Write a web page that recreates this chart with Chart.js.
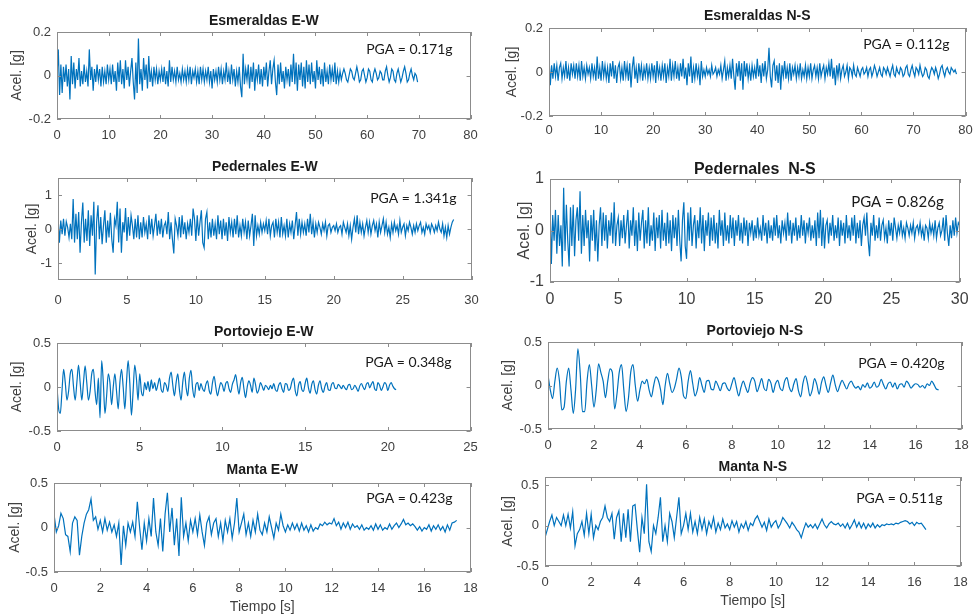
<!DOCTYPE html>
<html>
<head>
<meta charset="utf-8">
<script src="https://cdn.jsdelivr.net/npm/chart.js@4.4.1/dist/chart.umd.min.js"></script>
<style>
  html, body { margin: 0; padding: 0; background: #fff; overflow: hidden; }
  #wrap { position: relative; width: 979px; height: 615px; }
  #wrap canvas { position: absolute; }
</style>
</head>
<body>
<div id="wrap"></div>
<script>
// sampling steps [s]
var dtEsmEW = 0.25, dtEsmNS = 0.25, dtPed = 0.1, dtPort = 0.1, dtManta = 0.1;

var titles = ["Esmeraldas E-W", "Esmeraldas N-S", "Pedernales E-W", "Pedernales  N-S",
              "Portoviejo E-W", "Portoviejo N-S", "Manta E-W", "Manta N-S"];
var pgaLabels = ["PGA = 0.171g", "PGA = 0.112g", "PGA = 1.341g", "PGA = 0.826g",
                 "PGA = 0.348g", "PGA = 0.420g", "PGA = 0.423g", "PGA = 0.511g"];

var xTicks80 = [0, 10, 20, 30, 40, 50, 60, 70, 80];
var xTicks30 = [0, 5, 10, 15, 20, 25, 30];
var xTicks25 = [0, 5, 10, 15, 20, 25];
var xTicks18 = [0, 2, 4, 6, 8, 10, 12, 14, 16, 18];
var yTicks02 = [-0.2, 0, 0.2];
var yTicks1 = [-1, 0, 1];
var yTicks05 = [-0.5, 0, 0.5];

// acceleration [g]
var esmeraldasEW = [
  0.00, 0.12, -0.09, 0.05, -0.08, 0.04, -0.03, 0.05, -0.05, 0.03, -0.11, 0.09, -0.04, 0.06, -0.06, 0.03, -0.02, 0.08, -0.05, 0.02,
  -0.04, 0.05, -0.03, 0.02, -0.05, 0.12, -0.02, 0.04, -0.07, 0.03, -0.03, 0.05, -0.02, 0.03, -0.05, 0.04, -0.03, 0.02, -0.04, 0.05,
  -0.02, 0.03, -0.04, 0.05, -0.03, 0.02, -0.07, 0.06, -0.03, 0.07, -0.04, 0.03, -0.06, 0.07, -0.02, 0.04, -0.05, 0.02, 0.08, -0.03,
  -0.11, 0.06, -0.08, 0.17, -0.04, 0.03, -0.07, 0.08, -0.02, 0.05, -0.06, 0.09, -0.03, 0.02, -0.05, 0.04, -0.02, 0.03, -0.04, 0.02,
  -0.02, 0.03, -0.03, 0.04, -0.04, 0.02, -0.05, 0.07, -0.03, 0.04, -0.02, 0.02, -0.03, 0.04, -0.02, 0.01, -0.03, 0.03, -0.02, 0.02,
  -0.03, 0.03, -0.02, 0.04, -0.04, 0.02, -0.01, 0.03, -0.03, 0.02, -0.04, 0.04, -0.02, 0.03, -0.03, 0.02, -0.02, 0.04, -0.03, 0.02,
  -0.06, 0.03, -0.02, 0.02, -0.03, 0.04, -0.02, 0.03, -0.04, 0.02, -0.02, 0.06, -0.03, 0.02, -0.04, 0.05, -0.02, 0.03, -0.05, 0.02,
  -0.03, 0.04, -0.05, -0.10, 0.10, -0.04, 0.03, -0.02, 0.05, -0.06, 0.04, -0.03, 0.06, -0.07, 0.03, -0.02, 0.05, -0.04, 0.03, -0.05,
  0.04, -0.02, 0.06, -0.05, 0.02, 0.07, -0.04, 0.03, 0.07, -0.03, -0.09, 0.05, -0.04, 0.06, -0.03, 0.02, -0.06, 0.04, -0.02, 0.03,
  -0.05, 0.05, -0.03, 0.10, -0.04, 0.06, -0.07, 0.05, -0.02, 0.06, -0.05, 0.04, -0.06, 0.07, -0.03, 0.05, -0.04, 0.06, -0.03, 0.02,
  -0.06, 0.07, -0.02, 0.04, -0.04, 0.03, -0.05, 0.06, -0.03, 0.02, -0.04, 0.05, -0.02, 0.03, -0.03, 0.06, -0.04, 0.02, -0.03, 0.02,
  -0.02, 0.01, 0.03, 0.01, -0.02, -0.03, 0.00, 0.03, 0.02, -0.01, -0.02, 0.01, 0.04, 0.01, -0.03, -0.02, 0.02, 0.03, 0.00, -0.03,
  -0.01, 0.03, 0.02, -0.02, -0.03, 0.01, 0.03, 0.01, -0.02, -0.01, 0.02, 0.01, -0.02, -0.02, 0.02, 0.04, 0.00, -0.03, -0.01, 0.03,
  0.02, -0.02, -0.03, 0.01, 0.03, 0.00, -0.03, -0.01, 0.02, 0.04, 0.01, -0.03, -0.02, 0.01, 0.03, 0.00, -0.02, 0.01, 0.00, -0.03
];
var esmeraldasNS = [
  0.07, -0.06, 0.03, -0.03, 0.04, -0.02, 0.03, -0.04, 0.02, 0.04, -0.03, 0.02, -0.02, 0.05, -0.03, 0.02, -0.04, 0.04, -0.01, 0.03,
  -0.03, 0.04, -0.02, 0.03, -0.04, 0.05, -0.02, 0.02, -0.03, 0.03, -0.01, 0.02, -0.03, 0.04, -0.02, 0.02, -0.04, 0.07, -0.03, 0.02,
  -0.04, 0.05, -0.02, 0.03, -0.03, 0.02, -0.05, 0.04, -0.02, 0.05, -0.03, 0.03, -0.05, 0.02, 0.04, -0.03, 0.02, -0.04, 0.05, -0.02,
  0.03, -0.04, 0.04, -0.07, 0.02, 0.07, -0.03, 0.02, -0.05, 0.04, -0.02, 0.03, -0.04, 0.02, -0.02, 0.04, -0.03, 0.02, -0.03, 0.04,
  -0.02, 0.03, -0.05, 0.05, -0.02, 0.02, -0.04, 0.03, -0.02, 0.04, -0.05, 0.02, -0.02, 0.06, -0.04, 0.03, -0.02, 0.05, -0.03, 0.02,
  -0.04, 0.04, -0.02, 0.06, -0.03, 0.02, -0.06, 0.04, -0.02, 0.07, -0.05, 0.02, -0.03, 0.04, -0.02, 0.02, -0.06, 0.05, -0.02, 0.01,
  -0.02, 0.02, -0.01, 0.01, -0.02, 0.03, -0.01, 0.00, 0.02, -0.02, 0.01, -0.01, 0.03, -0.03, 0.01, 0.05, -0.04, 0.02, -0.02, 0.03,
  -0.03, 0.06, -0.02, -0.08, 0.04, -0.02, 0.05, -0.04, 0.04, -0.08, 0.05, -0.02, 0.04, -0.03, 0.02, -0.04, 0.03, -0.02, 0.02, -0.03,
  0.06, -0.02, 0.03, -0.05, 0.04, -0.02, 0.05, -0.03, 0.01, 0.11, -0.02, -0.07, 0.03, 0.05, -0.04, 0.03, -0.05, 0.04, -0.08, 0.03,
  -0.02, 0.05, -0.03, 0.02, -0.03, 0.04, -0.04, 0.02, -0.01, 0.03, -0.03, 0.02, -0.02, 0.04, -0.03, 0.01, -0.02, 0.03, -0.03, 0.02,
  -0.02, 0.04, -0.03, 0.01, 0.03, -0.02, 0.02, -0.03, 0.04, -0.02, 0.01, 0.03, -0.03, 0.02, -0.01, 0.04, -0.02, 0.06, -0.03, 0.02,
  -0.06, 0.03, -0.02, 0.04, -0.03, 0.01, 0.03, -0.02, 0.00, 0.03, -0.03, 0.02, 0.01, -0.02, 0.03, -0.01, -0.02, 0.02, 0.00, -0.02,
  0.01, 0.02, -0.01, 0.00, 0.02, -0.02, 0.01, 0.02, -0.02, 0.00, 0.03, 0.01, -0.02, 0.00, 0.02, -0.01, -0.02, 0.02, 0.01, -0.01,
  0.02, 0.00, -0.02, 0.01, 0.03, -0.01, -0.02, 0.02, 0.00, -0.01, 0.02, 0.01, -0.02, -0.01, 0.02, 0.03, -0.01, -0.02, 0.01, 0.03,
  0.00, -0.02, 0.02, 0.01, -0.01, 0.03, 0.00, -0.02, -0.01, 0.02, 0.01, -0.02, -0.03, 0.00, 0.02, 0.01, -0.01, 0.02, 0.00, -0.03,
  -0.01, 0.02, 0.03, 0.00, -0.02, 0.01, 0.02, 0.00, -0.01, 0.02, 0.01, 0.00, 0.01, -0.01
];
var pedernalesEW = [
  0.38, -0.40, 0.25, -0.15, 0.30, -0.20, 0.22, 0.05, -0.25, 0.15, -0.30, 0.88, -0.40, 0.45, -0.30, 0.50, -0.70, 0.20, 0.78, -0.40,
  0.30, -0.35, 0.55, -0.50, 0.40, -0.20, 0.80, -1.34, 0.20, 0.70, -0.30, 0.35, -0.45, 0.10, 0.55, -0.40, 0.25, -0.25, 0.48, -0.30,
  -0.70, 0.30, 0.10, 0.80, -0.40, 0.60, -0.70, 0.20, -0.10, 0.62, -0.35, 0.35, -0.20, 0.40, 0.10, -0.30, 0.30, -0.25, 0.40, -0.30,
  0.20, -0.25, 0.35, -0.10, 0.15, -0.30, 0.40, -0.15, 0.30, -0.20, 0.10, 0.45, -0.20, 0.25, -0.15, 0.30, -0.25, 0.10, 0.20, -0.15,
  0.50, -0.30, 0.20, -0.30, -0.72, 0.30, 0.10, -0.20, 0.35, -0.25, 0.40, -0.15, 0.20, -0.30, 0.15, -0.10, 0.30, -0.20, 0.60, 0.30,
  -0.35, 0.40, -0.20, 0.20, 0.55, -0.40, -0.55, 0.30, 0.50, -0.30, 0.20, -0.25, 0.30, -0.20, 0.15, -0.30, 0.40, -0.15, 0.25, -0.30,
  0.30, -0.20, 0.20, -0.35, 0.35, -0.10, 0.20, -0.25, 0.30, -0.15, 0.40, -0.25, 0.10, -0.20, 0.30, -0.10, 0.20, -0.30, 0.25, -0.20,
  0.10, 0.45, -0.50, 0.40, -0.20, 0.10, -0.15, 0.20, -0.10, 0.15, -0.05, 0.25, -0.15, 0.30, -0.20, 0.10, 0.20, -0.25, 0.30, -0.10,
  0.20, -0.25, 0.35, -0.15, 0.10, -0.20, 0.30, -0.25, 0.15, -0.10, 0.25, -0.30, 0.10, 0.50, -0.20, 0.30, -0.15, 0.20, -0.10, 0.15,
  -0.20, 0.30, -0.10, 0.45, -0.15, 0.20, -0.25, 0.15, -0.10, 0.20, 0.05, -0.15, 0.15, -0.05, 0.20, -0.20, 0.10, 0.15, -0.10, 0.05,
  0.10, -0.05, 0.15, -0.10, 0.05, 0.10, -0.15, 0.20, 0.05, -0.10, 0.15, -0.20, 0.10, -0.30, 0.05, 0.30, -0.10, 0.40, -0.15, 0.20,
  -0.10, 0.15, -0.20, 0.05, 0.25, -0.10, 0.20, -0.15, 0.10, 0.25, -0.05, 0.15, -0.25, 0.20, -0.10, 0.10, 0.30, -0.10, 0.20, -0.15,
  0.05, -0.25, 0.15, -0.10, 0.20, -0.05, 0.10, -0.15, 0.25, -0.10, 0.05, 0.15, -0.20, 0.10, -0.05, 0.20, 0.05, -0.15, 0.10, -0.10,
  0.15, -0.05, 0.10, 0.20, -0.10, 0.05, -0.15, 0.15, 0.00, 0.10, -0.10, 0.15, 0.05, -0.10, 0.10, -0.05, 0.20, 0.00, -0.10, 0.15,
  -0.20, 0.05, -0.25, 0.10, -0.15, 0.05, 0.20, 0.28
];
var pedernalesNS = [
  0.55, -0.65, 0.30, -0.20, 0.40, -0.45, 0.30, -0.30, 0.10, -0.70, 0.83, -0.40, 0.50, -0.20, -0.70, 0.45, -0.30, 0.50, -0.50, 0.20,
  0.45, -0.20, 0.76, -0.45, 0.30, -0.30, 0.40, -0.15, 0.20, -0.60, 0.30, -0.20, 0.40, -0.40, 0.20, -0.60, 0.10, 0.45, -0.30, 0.35,
  -0.20, 0.30, -0.35, 0.20, -0.10, 0.35, -0.25, 0.55, -0.30, 0.10, 0.25, -0.30, 0.20, -0.15, 0.30, -0.25, 0.10, 0.40, -0.35, 0.20,
  -0.10, 0.45, -0.30, 0.20, -0.40, 0.35, -0.20, 0.15, 0.40, -0.35, 0.20, -0.25, 0.45, -0.30, 0.10, -0.20, 0.35, -0.40, 0.25, -0.15,
  0.30, -0.35, 0.40, -0.20, 0.15, -0.30, 0.35, -0.25, 0.20, -0.40, 0.30, -0.15, 0.25, -0.30, 0.40, -0.20, -0.60, 0.20, 0.55, -0.30,
  -0.55, 0.35, -0.20, 0.45, -0.30, 0.10, 0.30, -0.35, 0.20, -0.15, 0.45, -0.25, 0.30, -0.40, 0.20, -0.10, 0.35, -0.30, 0.25, -0.20,
  0.30, -0.25, 0.15, -0.35, 0.40, -0.10, 0.20, -0.30, 0.35, -0.20, 0.10, -0.25, 0.30, -0.15, 0.25, -0.30, 0.20, -0.10, 0.30, -0.20,
  0.15, -0.25, 0.25, -0.10, 0.20, -0.30, 0.15, -0.05, 0.20, -0.20, 0.10, -0.15, 0.25, -0.10, 0.05, -0.20, 0.30, -0.10, 0.15, -0.25,
  0.20, -0.15, 0.10, -0.20, 0.25, -0.10, 0.30, -0.15, 0.10, -0.25, 0.20, -0.05, 0.15, -0.20, 0.35, -0.10, 0.20, -0.25, 0.15, -0.10,
  0.25, -0.20, 0.10, -0.15, 0.30, -0.10, 0.20, -0.25, 0.15, -0.05, 0.25, -0.20, 0.10, -0.15, 0.20, -0.30, 0.35, -0.15, 0.40, -0.30,
  0.25, -0.35, 0.10, 0.20, -0.25, 0.15, -0.10, 0.30, -0.20, 0.10, -0.15, 0.25, -0.30, 0.20, -0.10, 0.15, -0.25, 0.30, -0.15, 0.10,
  -0.20, 0.25, -0.10, 0.30, -0.25, 0.15, -0.15, 0.20, -0.30, 0.10, 0.25, -0.10, 0.35, -0.20, -0.50, 0.15, -0.10, 0.30, -0.20, 0.10,
  -0.15, 0.25, -0.20, 0.10, 0.20, -0.15, 0.05, -0.25, 0.20, -0.10, 0.15, -0.20, 0.25, 0.05, -0.15, 0.10, -0.05, 0.20, -0.10, 0.05,
  -0.15, 0.15, 0.05, -0.10, 0.10, -0.05, 0.15, -0.15, 0.05, 0.10, -0.05, 0.15, -0.10, 0.05, -0.20, 0.10, 0.05, -0.15, 0.15, -0.05,
  0.10, -0.10, 0.20, -0.15, 0.05, 0.15, -0.10, 0.00, 0.25, -0.20, 0.30, -0.05, -0.30, 0.10, -0.15, 0.20, -0.10, 0.25, -0.05, 0.15,
  0.10
];
var portoviejoEW = [
  0.00, -0.25, -0.30, -0.05, 0.20, 0.05, -0.15, -0.05, 0.15, 0.20, 0.00, -0.15, 0.05, 0.25, 0.05, -0.15, 0.05, 0.24, 0.05, -0.15,
  -0.05, 0.15, 0.20, -0.05, -0.20, 0.10, -0.35, 0.30, 0.05, -0.30, -0.10, 0.15, 0.05, -0.20, 0.00, 0.15, -0.05, -0.25, 0.05, 0.20,
  0.00, -0.25, 0.05, 0.30, 0.05, -0.32, -0.05, 0.25, 0.10, -0.15, 0.15, -0.05, -0.10, 0.05, -0.03, 0.06, -0.05, 0.08, -0.02, 0.05,
  -0.04, 0.03, 0.10, -0.03, -0.06, 0.05, 0.02, -0.05, 0.10, 0.17, 0.02, -0.10, 0.05, 0.15, -0.03, -0.15, 0.05, 0.17, 0.00, -0.10,
  0.10, 0.19, -0.02, -0.12, 0.03, 0.05, -0.04, 0.04, -0.02, -0.05, 0.03, 0.07, -0.04, -0.08, 0.05, 0.12, 0.00, -0.10, -0.02, 0.05,
  0.02, -0.05, 0.04, 0.06, -0.02, -0.06, 0.03, 0.08, 0.14, 0.02, -0.08, 0.05, 0.11, -0.02, -0.12, 0.00, 0.07, 0.02, -0.06, 0.10,
  0.03, -0.07, -0.03, 0.05, 0.01, -0.04, 0.02, 0.00, -0.03, 0.02, -0.02, 0.04, -0.03, -0.05, 0.02, 0.05, -0.02, -0.06, 0.04, 0.03,
  -0.04, -0.02, 0.06, 0.10, -0.04, -0.10, 0.02, 0.06, -0.03, -0.05, 0.04, 0.10, -0.01, -0.07, 0.03, 0.07, -0.03, -0.08, 0.02, 0.07,
  -0.02, -0.06, 0.01, 0.05, -0.03, -0.04, 0.03, 0.05, -0.01, -0.02, 0.03, 0.01, -0.02, 0.02, -0.01, -0.03, 0.02, 0.03, -0.03, -0.02,
  0.02, -0.01, -0.05, 0.01, 0.04, 0.00, -0.03, 0.03, 0.05, -0.01, 0.03, 0.06, -0.02, -0.04, 0.05, 0.02, -0.04, 0.00, 0.05, 0.03,
  -0.04, 0.02, 0.05, 0.01, -0.02, -0.03
];
var portoviejoNS = [
  0.12, -0.05, -0.15, 0.05, 0.20, 0.05, -0.28, -0.25, 0.05, 0.20, -0.05, -0.32, -0.05, 0.42, 0.15, -0.30, -0.30, 0.05, 0.24, 0.00,
  -0.25, -0.05, 0.25, 0.15, 0.05, -0.14, 0.05, 0.19, 0.15, -0.27, -0.10, 0.15, 0.24, -0.05, -0.30, -0.15, 0.15, 0.24, 0.00, -0.18,
  -0.05, 0.05, 0.02, 0.07, -0.05, -0.13, 0.00, 0.10, 0.06, -0.05, -0.22, 0.00, 0.14, 0.02, -0.08, -0.03, 0.08, 0.20, 0.10, -0.12,
  -0.15, 0.05, 0.17, 0.02, -0.12, -0.05, 0.09, 0.00, -0.08, 0.05, 0.06, -0.04, -0.05, 0.05, 0.00, -0.06, 0.02, 0.03, -0.03, -0.06,
  0.02, 0.09, -0.02, -0.12, -0.02, 0.05, -0.02, -0.08, 0.03, 0.09, 0.05, -0.07, 0.00, 0.08, -0.03, -0.06, 0.07, 0.03, -0.08, 0.02,
  0.06, -0.03, -0.06, 0.05, 0.09, -0.02, -0.07, 0.02, 0.08, -0.06, -0.13, 0.03, 0.11, 0.02, -0.12, -0.05, 0.08, 0.01, -0.10, 0.03,
  0.10, 0.00, -0.08, 0.03, 0.12, 0.01, -0.07, 0.00, 0.06, 0.01, -0.04, 0.02, 0.05, 0.00, -0.03, -0.01, -0.05, 0.01, -0.02, 0.03,
  -0.03, -0.01, 0.04, -0.02, 0.00, 0.07, 0.01, -0.04, 0.02, 0.04, -0.02, 0.03, -0.04, 0.01, 0.02, -0.02, 0.05, 0.02, -0.03, 0.00,
  0.02, 0.01, -0.02, 0.00, -0.03, 0.02, 0.00, 0.05, 0.01, -0.04, -0.05
];
var mantaEW = [
  0.15, -0.05, 0.02, 0.16, 0.10, -0.08, -0.10, -0.27, 0.05, 0.12, 0.08, -0.31, -0.10, 0.05, 0.15, 0.20, 0.32, 0.08, 0.12, -0.02,
  0.08, -0.05, 0.10, -0.03, 0.06, -0.05, 0.03, -0.10, 0.05, -0.42, 0.02, -0.20, 0.05, -0.05, 0.06, -0.10, 0.29, 0.00, -0.25, 0.05,
  -0.15, 0.10, -0.10, 0.33, -0.05, -0.20, 0.10, -0.27, 0.15, 0.39, -0.05, 0.22, -0.20, 0.10, -0.32, 0.34, -0.10, 0.05, -0.15, 0.08,
  -0.05, 0.10, -0.08, 0.14, -0.05, -0.20, 0.05, 0.12, -0.08, 0.05, 0.10, -0.10, 0.05, -0.15, 0.08, -0.05, 0.10, -0.12, 0.05, 0.33,
  -0.05, 0.05, 0.15, -0.08, 0.05, -0.10, 0.08, -0.05, 0.15, -0.03, -0.08, 0.05, -0.05, 0.12, 0.00, -0.12, 0.05, -0.03, 0.15, 0.02,
  -0.05, 0.03, -0.03, 0.05, -0.02, 0.04, -0.04, 0.05, -0.03, 0.02, -0.05, 0.03, -0.04, 0.00, -0.02, 0.04, 0.02, 0.06, 0.03, 0.05,
  0.04, 0.10, 0.02, 0.06, -0.02, 0.05, 0.00, 0.06, -0.02, 0.04, 0.00, 0.02, -0.02, 0.03, -0.03, 0.00, -0.02, 0.02, -0.03, 0.04,
  -0.02, 0.03, -0.03, 0.00, -0.02, 0.04, -0.02, 0.02, 0.05, 0.00, 0.04, 0.09, 0.03, 0.05, 0.02, 0.04, 0.01, -0.03, 0.01, -0.04,
  0.00, -0.02, 0.03, -0.04, 0.02, -0.02, 0.03, -0.03, 0.01, -0.05, 0.03, -0.03, 0.05, 0.06, 0.08
];
var mantaNS = [
  -0.15, -0.05, 0.05, 0.13, 0.00, 0.10, 0.05, 0.00, 0.13, 0.00, 0.14, -0.03, 0.17, -0.25, -0.10, -0.05, 0.05, -0.12, 0.15, -0.10,
  0.14, -0.15, 0.00, -0.05, 0.05, 0.10, 0.24, 0.10, 0.05, 0.15, -0.17, 0.10, 0.18, -0.20, 0.15, -0.15, 0.20, -0.20, 0.24, 0.26,
  -0.05, -0.33, 0.10, -0.10, 0.51, -0.20, -0.32, 0.00, -0.10, 0.10, 0.35, -0.20, 0.00, -0.20, 0.15, 0.05, -0.15, 0.10, 0.35, -0.10,
  0.00, 0.15, -0.05, 0.15, -0.08, 0.05, -0.10, 0.10, -0.05, 0.08, -0.10, 0.05, -0.03, 0.10, -0.08, 0.03, -0.05, 0.08, -0.03, 0.02,
  -0.05, 0.06, -0.02, 0.05, -0.08, 0.02, -0.03, 0.05, -0.06, 0.03, 0.00, 0.08, 0.12, 0.05, -0.02, 0.04, -0.06, 0.08, -0.02, 0.03,
  0.06, -0.03, 0.02, 0.10, 0.06, 0.02, -0.03, 0.04, 0.00, -0.05, -0.08, -0.15, -0.05, 0.03, -0.02, 0.01, -0.03, 0.02, -0.04, 0.02,
  0.08, 0.01, -0.03, 0.02, 0.05, 0.02, 0.01, 0.03, -0.01, 0.02, -0.03, 0.03, -0.04, 0.01, 0.07, -0.02, 0.04, -0.03, 0.03, -0.04,
  0.02, -0.02, 0.03, -0.03, 0.01, -0.02, 0.01, 0.00, 0.02, 0.01, 0.02, 0.01, 0.03, 0.02, 0.04, 0.05, 0.06, 0.05, 0.02, 0.04,
  0.00, 0.04, 0.02, 0.03, -0.01, -0.05
];

var FONT = "'Liberation Sans', Arial, sans-serif";
var LINE = "#0072BD";
var GREY = "#404040";

// layout of each subplot: plot box L,T,R,B in page pixels, plus text positions
var panels = [
  { values: esmeraldasEW, dt: dtEsmEW, xMax: 80, yMin: -0.2, yMax: 0.2, xTicks: xTicks80, yTicks: yTicks02,
    col: 0, L: 57, T: 32, R: 474, B: 119, titleY: 21, yTitleX: 17, tickY: 135, pgaDx: 18, pgaDy: 17 },
  { values: esmeraldasNS, dt: dtEsmNS, xMax: 80, yMin: -0.2, yMax: 0.2, xTicks: xTicks80, yTicks: yTicks02,
    col: 490, L: 549, T: 28, R: 969, B: 116, titleY: 16, yTitleX: 512, tickY: 130, pgaDx: 16, pgaDy: 16 },
  { values: pedernalesEW, dt: dtPed, xMax: 30, yMin: -1.5, yMax: 1.5, xTicks: xTicks30, yTicks: yTicks1,
    col: 0, L: 58, T: 178, R: 479, B: 280, titleY: 167, yTitleX: 32, tickY: 300, pgaDx: 15, pgaDy: 20 },
  { values: pedernalesNS, dt: dtPed, xMax: 30, yMin: -1, yMax: 1, xTicks: xTicks30, yTicks: yTicks1,
    col: 490, L: 550, T: 179, R: 965, B: 282, titleY: 170, yTitleX: 525, tickY: 300, pgaDx: 16, pgaDy: 23, big: true },
  { values: portoviejoEW, dt: dtPort, xMax: 25, yMin: -0.5, yMax: 0.5, xTicks: xTicks25, yTicks: yTicks05,
    col: 0, L: 57, T: 343, R: 474, B: 431, titleY: 332, yTitleX: 17, tickY: 447, pgaDx: 19, pgaDy: 19, smooth: true },
  { values: portoviejoNS, dt: dtPort, xMax: 18, yMin: -0.5, yMax: 0.5, xTicks: xTicks18, yTicks: yTicks05,
    col: 490, L: 548, T: 342, R: 965, B: 429, titleY: 331, yTitleX: 508, tickY: 445, pgaDx: 17, pgaDy: 21, smooth: true },
  { values: mantaEW, dt: dtManta, xMax: 18, yMin: -0.5, yMax: 0.5, xTicks: xTicks18, yTicks: yTicks05,
    col: 0, L: 54, T: 483, R: 474, B: 572, titleY: 470, yTitleX: 15, tickY: 588, xTitleY: 607, pgaDx: 18, pgaDy: 15 },
  { values: mantaNS, dt: dtManta, xMax: 18, yMin: -0.5, yMax: 0.6, xTicks: xTicks18, yTicks: yTicks05,
    col: 490, L: 545, T: 477, R: 964, B: 566, titleY: 467, yTitleX: 508, tickY: 582, xTitleY: 601, pgaDx: 18, pgaDy: 21 }
];

// box + inward tick marks + PGA note, MATLAB style
var framePlugin = {
  id: "frame",
  afterDatasetsDraw: function (chart, args, opts) {
    var ctx = chart.ctx, a = chart.chartArea, xs = chart.scales.x, ys = chart.scales.y;
    ctx.save();
    ctx.strokeStyle = "#8c8c8c";
    ctx.lineWidth = 1;
    ctx.strokeRect(Math.round(a.left) + 0.5, Math.round(a.top) + 0.5, Math.round(a.width) - 1, Math.round(a.height) - 1);
    ctx.beginPath();
    xs.ticks.forEach(function (t) {
      var px = Math.round(xs.getPixelForValue(t.value)) + 0.5;
      ctx.moveTo(px, a.bottom); ctx.lineTo(px, a.bottom - 4);
      ctx.moveTo(px, a.top); ctx.lineTo(px, a.top + 4);
    });
    ys.ticks.forEach(function (t) {
      var py = Math.round(ys.getPixelForValue(t.value)) + 0.5;
      ctx.moveTo(a.left, py); ctx.lineTo(a.left + 4, py);
      ctx.moveTo(a.right, py); ctx.lineTo(a.right - 4, py);
    });
    ctx.stroke();
    ctx.fillStyle = "#1a1a1a";
    ctx.font = opts.size + "px Lato, 'Open Sans', sans-serif";
    ctx.textAlign = "right";
    ctx.textBaseline = "middle";
    ctx.fillText(opts.text, a.right - opts.dx, a.top + opts.dy);
    ctx.restore();
  }
};

var wrap = document.getElementById("wrap");

panels.forEach(function (p, k) {
  var tickSize = p.big ? 16 : 13;
  var titleSize = p.big ? 16 : 14;
  var axisTitleSize = p.big ? 16 : 14;
  var canvasTop = p.T - 30;
  var canvasRight = Math.min(p.R + 12, 979);
  var bottomH = (p.xTitleY ? p.xTitleY : p.tickY) + 10 - p.B;

  var cv = document.createElement("canvas");
  cv.width = canvasRight - p.col;
  cv.height = p.B + bottomH - canvasTop;
  cv.style.left = p.col + "px";
  cv.style.top = canvasTop + "px";
  wrap.appendChild(cv);

  var pts = p.values.map(function (v, i) { return { x: +(i * p.dt).toFixed(2), y: v }; });

  new Chart(cv, {
    type: "line",
    data: {
      datasets: [{
        data: pts,
        borderColor: LINE,
        borderWidth: 1.2,
        pointRadius: 0,
        fill: false,
        cubicInterpolationMode: p.smooth ? "monotone" : "default",
        tension: 0
      }]
    },
    options: {
      responsive: false,
      animation: false,
      events: [],
      layout: { padding: { left: 0, right: canvasRight - p.R, top: 0, bottom: 0 } },
      plugins: {
        legend: { display: false },
        tooltip: { enabled: false },
        title: {
          display: true,
          text: titles[k],
          fullSize: false,
          color: "#1a1a1a",
          font: { family: FONT, size: titleSize, weight: "bold", lineHeight: 1 },
          padding: { top: p.titleY - canvasTop - titleSize / 2, bottom: p.T - p.titleY - titleSize / 2 }
        },
        frame: { text: pgaLabels[k], dx: p.pgaDx, dy: p.pgaDy, size: p.big ? 15 : 14 }
      },
      scales: {
        x: {
          type: "linear",
          min: 0,
          max: p.xMax,
          afterFit: function (s) { s.height = bottomH; },
          afterBuildTicks: function (s) { s.ticks = p.xTicks.map(function (v) { return { value: v }; }); },
          grid: { display: false, drawTicks: false },
          border: { display: false },
          ticks: {
            autoSkip: false, maxRotation: 0, color: GREY,
            padding: p.tickY - p.B - tickSize * 0.6,
            font: { family: FONT, size: tickSize },
            callback: function (v) { return String(v); }
          },
          title: {
            display: !!p.xTitleY,
            text: "Tiempo [s]",
            color: GREY,
            font: { family: FONT, size: 14 },
            padding: { top: 0, bottom: 10 - 8.4 }
          }
        },
        y: {
          min: p.yMin,
          max: p.yMax,
          afterFit: function (s) { s.width = p.L - p.col; },
          afterBuildTicks: function (s) { s.ticks = p.yTicks.map(function (v) { return { value: v }; }); },
          grid: { display: false, drawTicks: false },
          border: { display: false },
          ticks: {
            color: GREY, padding: 6,
            font: { family: FONT, size: tickSize },
            callback: function (v) { return String(v); }
          },
          title: {
            display: true,
            text: "Acel. [g]",
            color: GREY,
            font: { family: FONT, size: axisTitleSize },
            padding: { top: p.yTitleX - p.col - axisTitleSize * 0.6, bottom: 0 }
          }
        }
      }
    },
    plugins: [framePlugin]
  });
});
</script>
</body>
</html>
